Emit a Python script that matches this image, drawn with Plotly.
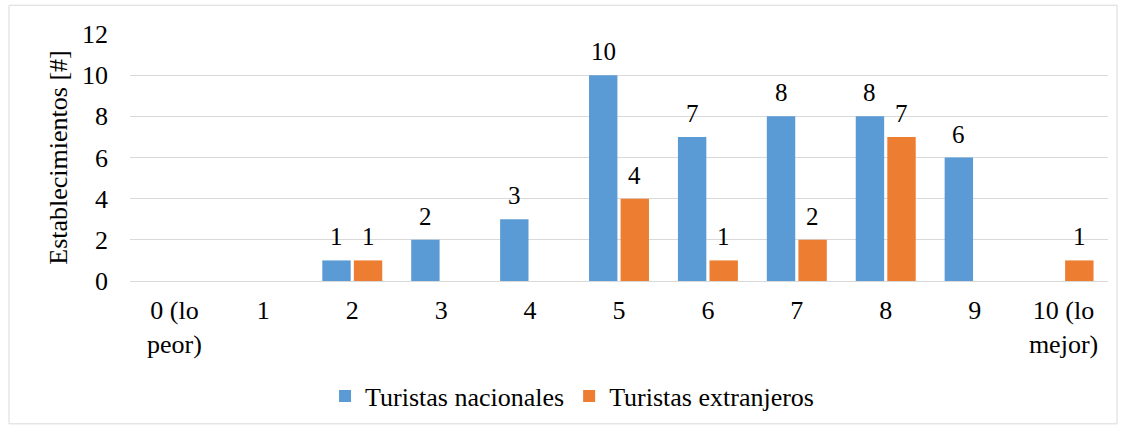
import plotly.graph_objects as go

categories = ["0 (lo<br>peor)", "1", "2", "3", "4", "5", "6", "7", "8", "9", "10 (lo<br>mejor)"]
nacionales = [0, 0, 1, 2, 3, 10, 7, 8, 8, 6, 0]
extranjeros = [0, 0, 1, 0, 0, 4, 1, 2, 7, 0, 1]

W, H = 1124, 432
ML, MR, MT, MB = 130, 16, 34, 149
BARGAP, BARGROUPGAP = 0.29, 0.1

font = dict(family="Liberation Serif", size=26, color="#000000")

fig = go.Figure()
fig.add_trace(go.Bar(x=categories, y=nacionales, name="Turistas nacionales",
                     marker=dict(color="#5B9BD5", line=dict(width=0))))
fig.add_trace(go.Bar(x=categories, y=extranjeros, name="Turistas extranjeros",
                     marker=dict(color="#ED7D31", line=dict(width=0))))

# data labels placed over each bar (offset by half a group slot)
cat_px = (W - ML - MR) / len(categories)
slot = cat_px * (1 - BARGAP) / 2
annotations = []
for vals, sign in ((nacionales, -1), (extranjeros, 1)):
    for c, v in zip(categories, vals):
        if v:
            annotations.append(dict(x=c, y=v, xref="x", yref="y", text=str(v),
                                    showarrow=False, yanchor="bottom",
                                    xshift=sign * slot / 2, yshift=8,
                                    font=dict(family="Liberation Serif", size=25, color="#000000")))

fig.update_layout(
    width=W, height=H,
    margin=dict(l=ML, r=MR, t=MT, b=MB),
    paper_bgcolor="white", plot_bgcolor="white",
    font=font,
    barmode="group", bargap=BARGAP, bargroupgap=BARGROUPGAP,
    showlegend=True,
    legend=dict(orientation="h", x=0.452, xanchor="center", y=-0.466, yanchor="middle",
                font=font, traceorder="normal"),
    xaxis=dict(showgrid=False, showline=False, ticks="", tickfont=font, ticklabelstandoff=11),
    yaxis=dict(range=[0, 12], dtick=2, showgrid=True, gridcolor="#D9D9D9", gridwidth=1,
               zeroline=True, zerolinecolor="#D9D9D9", zerolinewidth=1,
               showline=False, ticks="", tickfont=font, ticklabelstandoff=21,
               title=dict(text="Establecimientos [#]", font=font, standoff=6)),
    annotations=annotations,
    shapes=[dict(type="rect", xref="paper", yref="paper",
                 x0=(9 - ML) / (W - ML - MR), x1=(1117 - ML) / (W - ML - MR),
                 y0=(H - MB - 427) / (H - MT - MB), y1=(H - MB - 5) / (H - MT - MB),
                 line=dict(color="#D9D9D9", width=1), fillcolor="rgba(0,0,0,0)", layer="below")],
)

fig.write_html("out.html", config={"displayModeBar": False},
               post_script="document.body.style.margin='0';document.body.style.padding='0';")
